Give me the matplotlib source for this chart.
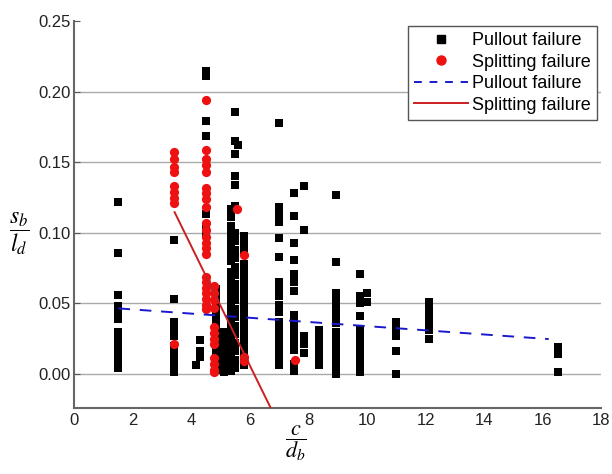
import matplotlib
matplotlib.use("Agg")
import matplotlib.pyplot as plt
import numpy as np
from matplotlib.lines import Line2D

plt.rcParams['font.family'] = ['Liberation Sans', 'DejaVu Sans']
plt.rcParams['mathtext.fontset'] = 'stix'

# ---- data: pullout failure (black squares), grouped by c/db column ----
pullout_cols = [1.5, 3.4, 4.3, 4.15, 4.5, 4.85, 5.1, 5.35, 5.5, 5.58, 5.8,
                7.0, 7.5, 7.85, 8.35, 8.95, 9.75, 10.0, 11.0, 12.1, 16.5]
pullout_vals = [
    [0.122, 0.086, 0.056, 0.048, 0.044, 0.039, 0.030, 0.025, 0.019, 0.014, 0.009, 0.004],
    [0.095, 0.053, 0.037, 0.032, 0.027, 0.020, 0.016, 0.012, 0.007, 0.001],
    [0.024, 0.016, 0.012],
    [0.006],
    [0.215, 0.211, 0.179, 0.169, 0.113, 0.105, 0.099],
    [0.060, 0.056, 0.051, 0.046, 0.042, 0.038, 0.033, 0.028, 0.023, 0.018, 0.013, 0.008, 0.003],
    [0.030, 0.025, 0.020, 0.015, 0.010, 0.005, 0.001],
    [0.117, 0.111, 0.105, 0.100, 0.095, 0.090, 0.085, 0.080, 0.072, 0.067, 0.062, 0.057,
     0.052, 0.047, 0.042, 0.037, 0.032, 0.027, 0.022, 0.017, 0.012, 0.007, 0.002],
    [0.186, 0.165, 0.156, 0.140, 0.134, 0.119, 0.100, 0.094, 0.088, 0.082, 0.076, 0.070,
     0.064, 0.058, 0.052, 0.046, 0.040, 0.034, 0.028, 0.022, 0.016, 0.010, 0.004],
    [0.162],
    [0.098, 0.093, 0.088, 0.078, 0.073, 0.068, 0.063, 0.057, 0.052, 0.047, 0.042, 0.037,
     0.032, 0.027, 0.022, 0.017, 0.012, 0.006],
    [0.178, 0.118, 0.113, 0.108, 0.096, 0.083, 0.065, 0.060, 0.055, 0.049, 0.044, 0.037,
     0.031, 0.026, 0.021, 0.016, 0.011, 0.006],
    [0.128, 0.112, 0.093, 0.081, 0.071, 0.065, 0.059, 0.042, 0.037, 0.032, 0.027, 0.022,
     0.017, 0.007, 0.002],
    [0.133, 0.102, 0.027, 0.021, 0.015],
    [0.031, 0.026, 0.021, 0.016, 0.011, 0.006],
    [0.127, 0.079, 0.057, 0.052, 0.047, 0.041, 0.036, 0.030, 0.024, 0.019, 0.014, 0.009, 0.004, 0.000],
    [0.071, 0.055, 0.050, 0.041, 0.031, 0.026, 0.021, 0.016, 0.011, 0.006, 0.001],
    [0.057, 0.051],
    [0.037, 0.032, 0.027, 0.016, 0.000],
    [0.051, 0.046, 0.041, 0.036, 0.031, 0.025],
    [0.019, 0.014, 0.001],
]

# ---- data: splitting failure (red circles) ----
split_cols = [3.4, 4.5, 4.75, 5.55, 5.8, 7.55]
split_vals = [
    [0.157, 0.152, 0.147, 0.143, 0.133, 0.129, 0.125, 0.121, 0.021],
    [0.194, 0.159, 0.152, 0.148, 0.143, 0.132, 0.128, 0.124, 0.118, 0.107, 0.102, 0.097,
     0.093, 0.089, 0.085, 0.069, 0.065, 0.061, 0.057, 0.053, 0.049, 0.046],
    [0.062, 0.057, 0.052, 0.047, 0.033, 0.029, 0.025, 0.021, 0.011, 0.007, 0.003, 0.001],
    [0.117],
    [0.084, 0.012, 0.009],
    [0.010],
]

# ---- trend lines: (slope, intercept) and x range ----
pullout_fit = (-0.00148, 0.0486)
pullout_fit_x = [1.5, 16.2]
split_fit = (-0.0423, 0.2593)
split_fit_x = [3.42, 7.0]

labels = ["Pullout failure", "Splitting failure", "Pullout failure", "Splitting failure"]
x_ticks = [0, 2, 4, 6, 8, 10, 12, 14, 16, 18]
y_ticks = [0.00, 0.05, 0.10, 0.15, 0.20, 0.25]

px = np.concatenate([[c] * len(v) for c, v in zip(pullout_cols, pullout_vals)])
py = np.concatenate(pullout_vals)
sx = np.concatenate([[c] * len(v) for c, v in zip(split_cols, split_vals)])
sy = np.concatenate(split_vals)

fig = plt.figure(figsize=(6.12, 4.74), dpi=100)
ax = fig.add_axes([0.1217, 0.140, 0.861, 0.815])

ax.scatter(px, py, marker='s', s=34, color='black', linewidths=0, zorder=3)
ax.scatter(sx, sy, marker='o', s=44, color='#ee1111', linewidths=0, zorder=4)

fx = np.array(pullout_fit_x)
ax.plot(fx, pullout_fit[0] * fx + pullout_fit[1], color='#1a1acc', lw=1.4,
        dashes=(6, 5), zorder=5)
gx = np.array(split_fit_x)
ax.plot(gx, split_fit[0] * gx + split_fit[1], color='#cc1f1f', lw=1.4, zorder=5)

ax.set_xlim(0, 18)
ax.set_ylim(-0.024, 0.25)
ax.set_xticks(x_ticks)
ax.set_yticks(y_ticks)
ax.set_yticklabels([f"{v:.2f}" for v in y_ticks])
ax.tick_params(axis='both', labelsize=12, colors='#222222', length=0, pad=4)
ax.tick_params(axis='y', direction='in', length=4, color='#555555', pad=3)

ax.yaxis.grid(True, color='#aaaaaa', lw=1.0)
ax.get_ygridlines()[-1].set_visible(False)
ax.set_axisbelow(True)

for s in ['top', 'right']:
    ax.spines[s].set_visible(False)
for s in ['left', 'bottom']:
    ax.spines[s].set_color('#666666')
    ax.spines[s].set_linewidth(1.5)

ax.set_xlabel(r"$\dfrac{c}{d_b}$", fontsize=16, va='top')
ax.xaxis.set_label_coords(0.42, -0.04)
ax.set_ylabel(r"$\dfrac{s_b}{l_d}$", fontsize=17, rotation=0, va='center', ha='center')
ax.yaxis.set_label_coords(-0.105, 0.45)

handles = [
    Line2D([], [], ls='none', marker='s', color='black', ms=5.5),
    Line2D([], [], ls='none', marker='o', color='#ee1111', ms=6.5),
    Line2D([], [], color='#1a1acc', lw=1.4, dashes=(4, 4)),
    Line2D([], [], color='#cc1f1f', lw=1.4),
]
leg = ax.legend(handles, labels, loc='upper right', fontsize=13, frameon=True,
                fancybox=False, edgecolor='#555555', framealpha=1,
                labelspacing=0.25, handlelength=3.0, handletextpad=0.2,
                borderpad=0.35, borderaxespad=0.25)
leg.get_frame().set_linewidth(1.0)

fig.savefig("out.png", dpi=100)
